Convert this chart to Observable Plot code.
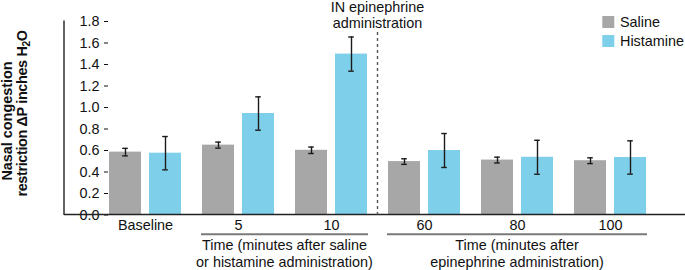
<!DOCTYPE html>
<html>
<head>
<meta charset="utf-8">
<script src="https://cdn.jsdelivr.net/npm/d3@7"></script>
<script src="https://cdn.jsdelivr.net/npm/@observablehq/plot@0.6"></script>
<style>
  html, body { margin: 0; padding: 0; background: #fff; }
  svg { font-family: "Liberation Sans", Arial, sans-serif; }
</style>
</head>
<body>
<div id="chart"></div>
<script>
// ---- data ----
const groups = ["Baseline", "5", "10", "60", "80", "100"];
const series = ["Saline", "Histamine"];
const salineMean = [0.585, 0.65, 0.602, 0.497, 0.511, 0.505];
const salineErr  = [0.035, 0.028, 0.030, 0.026, 0.027, 0.027];
const histMean   = [0.575, 0.944, 1.497, 0.600, 0.537, 0.535];
const histErr    = [0.155, 0.155, 0.159, 0.158, 0.158, 0.155];
const yTicks = [0, 0.2, 0.4, 0.6, 0.8, 1.0, 1.2, 1.4, 1.6, 1.8];
const colors = ["#a7a7a7", "#7ecfea"];
const yLabelLines = ["Nasal congestion", "restriction \u0394P inches H"];
const annotationLines = ["IN epinephrine", "administration"];
const brackets = [
  {from: "5", to: "10", lines: ["Time (minutes after saline", "or histamine administration)"]},
  {from: "60", to: "100", lines: ["Time (minutes after", "epinephrine administration)"]}
];
const dividerBetween = ["10", "60"];

const rows = [];
groups.forEach((g, i) => {
  rows.push({group: g, series: "Saline", mean: salineMean[i], err: salineErr[i]});
  rows.push({group: g, series: "Histamine", mean: histMean[i], err: histErr[i]});
});

const FS = 14.4;

const plot = Plot.plot({
  width: 685,
  height: 270,
  marginLeft: 64,
  marginRight: 0,
  marginTop: 21,
  marginBottom: 55.5,
  style: {fontFamily: "'Liberation Sans', Arial, sans-serif", fontSize: FS + "px", color: "#111", background: "#fff"},
  fx: {domain: groups, paddingInner: 0.2039, paddingOuter: 0.4289, align: 0.5335, label: null, tickSize: 0, tickPadding: 5},
  x: {domain: series, paddingInner: 0.188, paddingOuter: 0, axis: null},
  y: {domain: [0, 1.8], ticks: yTicks, tickFormat: d3.format(".1f"), tickSize: 4, tickPadding: 5, label: null},
  color: {domain: series, range: colors},
  marks: [
    Plot.barY(rows, {fx: "group", x: "series", y: "mean", fill: "series"}),
    Plot.ruleX(rows, {fx: "group", x: "series", y1: d => d.mean - d.err, y2: d => d.mean + d.err, stroke: "#1a1a1a", strokeWidth: 1.4}),
    Plot.tickY(rows, {fx: "group", x: "series", y: d => d.mean - d.err, stroke: "#1a1a1a", strokeWidth: 1.4, insetLeft: 13.2, insetRight: 13.2}),
    Plot.tickY(rows, {fx: "group", x: "series", y: d => d.mean + d.err, stroke: "#1a1a1a", strokeWidth: 1.4, insetLeft: 13.2, insetRight: 13.2})
  ]
});

document.getElementById("chart").appendChild(plot);

// ---- annotations using the plot's scales ----
const svg = d3.select(plot);
const fx = plot.scale("fx");
const y = plot.scale("y");
const color = plot.scale("color");
const bw = fx.bandwidth;
const y0 = y.apply(0), yTop = y.apply(1.8);
const left = 64, right = 685;

// axis lines
svg.append("line").attr("x1", left).attr("x2", left).attr("y1", yTop - 0.5).attr("y2", y0 + 0.5)
  .attr("stroke", "#222").attr("stroke-width", 1.4);
svg.append("line").attr("x1", left).attr("x2", right).attr("y1", y0).attr("y2", y0)
  .attr("stroke", "#222").attr("stroke-width", 1.4);

// divider
const dx = (fx.apply(dividerBetween[0]) + bw + fx.apply(dividerBetween[1])) / 2;
svg.append("line").attr("x1", dx).attr("x2", dx).attr("y1", 32).attr("y2", y0)
  .attr("stroke", "#555").attr("stroke-width", 1.4).attr("stroke-dasharray", "3,3");
annotationLines.forEach((t, i) => {
  svg.append("text").attr("x", dx).attr("y", 12 + i * 16).attr("text-anchor", "middle")
    .attr("font-size", FS).attr("fill", "#111").text(t);
});

// brackets
brackets.forEach(b => {
  const x1 = fx.apply(b.from), x2 = fx.apply(b.to) + bw;
  svg.append("line").attr("x1", x1).attr("x2", x2).attr("y1", 234.3).attr("y2", 234.3)
    .attr("stroke", "#7a7a7a").attr("stroke-width", 2);
  b.lines.forEach((t, i) => {
    svg.append("text").attr("x", (x1 + x2) / 2).attr("y", 250 + i * 16.7).attr("text-anchor", "middle")
      .attr("font-size", FS).attr("fill", "#111").text(t);
  });
});

// y label (rotated, two lines)
svg.append("text").attr("transform", "rotate(-90)").attr("x", -121).attr("y", 11.7)
  .attr("text-anchor", "middle").attr("font-size", FS).attr("font-weight", "bold").attr("fill", "#111")
  .text(yLabelLines[0]);
const yl2 = svg.append("text").attr("transform", "rotate(-90)").attr("x", -113.5).attr("y", 26.7)
  .attr("text-anchor", "middle").attr("font-size", FS).attr("font-weight", "bold").attr("fill", "#111")
  .attr("letter-spacing", "-0.35");
yl2.append("tspan").text(yLabelLines[1]);
yl2.append("tspan").attr("font-size", FS * 0.7).attr("dy", 3).text("2");
yl2.append("tspan").attr("dy", -3).text("O");

// legend
series.forEach((s, i) => {
  const yy = 16 + i * 19;
  svg.append("rect").attr("x", 602.3).attr("y", yy).attr("width", 12).attr("height", 12).attr("fill", color.apply(s));
  svg.append("text").attr("x", 620).attr("y", yy + 11).attr("text-anchor", "start")
    .attr("font-size", FS).attr("fill", "#111").text(s);
});
</script>
</body>
</html>
